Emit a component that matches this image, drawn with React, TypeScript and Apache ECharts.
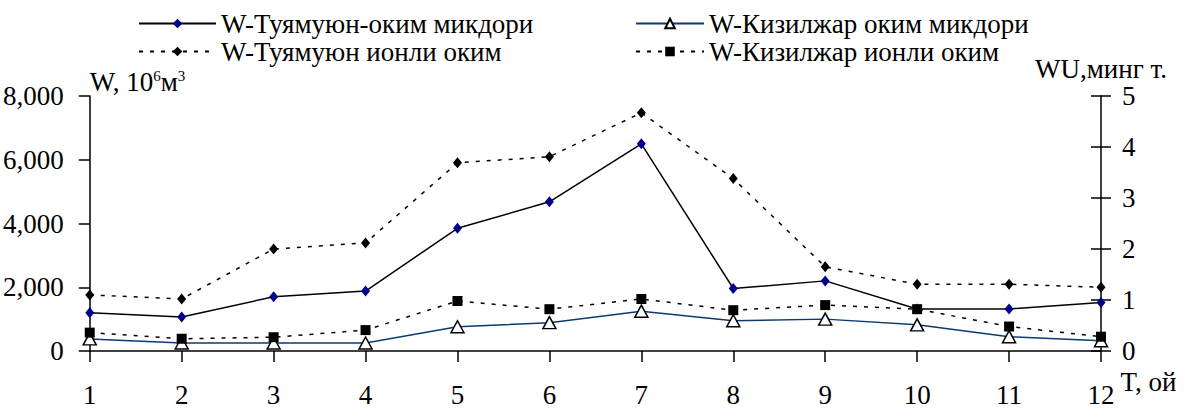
import React, { useEffect, useRef } from "react";
import * as echarts from "echarts";

const months = ["1", "2", "3", "4", "5", "6", "7", "8", "9", "10", "11", "12"];
const tuyamuyunFlow = [1200, 1070, 1700, 1880, 3850, 4680, 6500, 1960, 2200, 1320, 1320, 1520];
const kizilzharFlow = [380, 250, 250, 250, 760, 890, 1250, 950, 1000, 820, 450, 320];
const tuyamuyunIonic = [1.1, 1.02, 2.0, 2.12, 3.69, 3.81, 4.67, 3.38, 1.65, 1.31, 1.31, 1.25];
const kizilzharIonic = [0.36, 0.24, 0.27, 0.41, 0.98, 0.82, 1.02, 0.8, 0.9, 0.82, 0.48, 0.28];

const names = [
  "W-Туямуюн-оким микдори",
  "W-Кизилжар оким микдори",
  "W-Туямуюн ионли оким",
  "W-Кизилжар ионли оким",
];

const FONT = "Liberation Serif";
const FS = 27;

export default function App() {
  const ref = useRef<HTMLDivElement>(null);
  useEffect(() => {
    document.body.style.margin = "0";
    const chart = echarts.init(ref.current!, null, { renderer: "svg" });
    const axisLine = { show: true, lineStyle: { color: "#000", width: 1.5 } };
    const tickStyle = { color: "#000", width: 1.5 };
    chart.setOption({
      animation: false,
      textStyle: { fontFamily: FONT },
      grid: [{ left: 89, right: 93, top: 96, bottom: 58 }],
      legend: [
        {
          data: [names[0], names[2]],
          orient: "vertical",
          left: 133,
          top: 5,
          itemWidth: 77,
          itemHeight: 12,
          itemGap: 1,
          textStyle: { color: "#000", fontFamily: FONT, fontSize: FS },
        },
        {
          data: [names[1], names[3]],
          orient: "vertical",
          left: 630,
          top: 5,
          itemWidth: 68,
          itemHeight: 12,
          itemGap: 1,
          textStyle: { color: "#000", fontFamily: FONT, fontSize: FS },
        },
      ],
      xAxis: [
        {
          type: "category",
          data: months,
          boundaryGap: false,
          axisLine,
          axisTick: { show: true, inside: false, length: 11, lineStyle: tickStyle },
          axisLabel: { color: "#000", fontFamily: FONT, fontSize: FS, margin: 30, interval: 0 },
          splitLine: { show: false },
          name: "T, ой",
          nameLocation: "end",
          nameGap: 17,
          nameTextStyle: { color: "#000", fontFamily: FONT, fontSize: FS, verticalAlign: "top", padding: [17, 0, 0, 0] },
        },
      ],
      yAxis: [
        {
          type: "value",
          min: 0,
          max: 8000,
          interval: 2000,
          position: "left",
          axisLine,
          axisTick: { show: true, inside: false, length: 11, lineStyle: tickStyle },
          axisLabel: { color: "#000", fontFamily: FONT, fontSize: FS, margin: 26, formatter: "{value}" },
          splitLine: { show: false },
          name: "{a|W, 10}{s|6}{a|м}{s|3}",
          nameLocation: "end",
          nameGap: 0,
          nameTextStyle: {
            align: "left",
            fontFamily: FONT,
            rich: {
              a: { fontFamily: FONT, fontSize: FS, color: "#000", lineHeight: 28 },
              s: { fontFamily: FONT, fontSize: 15, color: "#000", lineHeight: 28, verticalAlign: "top" },
            },
          },
        },
        {
          type: "value",
          min: 0,
          max: 5,
          interval: 1,
          position: "right",
          axisLine,
          axisTick: { show: true, inside: false, length: 10, lineStyle: tickStyle },
          axisLabel: { color: "#000", fontFamily: FONT, fontSize: FS, margin: 21 },
          splitLine: { show: false },
          name: "WU,минг т.",
          nameLocation: "end",
          nameGap: 12,
          nameTextStyle: { color: "#000", fontFamily: FONT, fontSize: FS, lineHeight: 20 },
        },
        {
          type: "value",
          min: 0,
          max: 5,
          interval: 1,
          position: "right",
          axisLine: { show: false },
          axisTick: { show: true, inside: true, length: 10, lineStyle: tickStyle },
          axisLabel: { show: false },
          splitLine: { show: false },
        },
      ],
      series: [
        {
          name: names[0],
          type: "line",
          yAxisIndex: 0,
          data: tuyamuyunFlow,
          symbol: "diamond",
          symbolSize: [9, 11],
          lineStyle: { color: "#000", width: 1.5 },
          itemStyle: { color: "#00008b", borderWidth: 0 },
          z: 4,
        },
        {
          name: names[1],
          type: "line",
          yAxisIndex: 0,
          data: kizilzharFlow,
          symbol: "triangle",
          symbolSize: [13, 12],
          lineStyle: { color: "#0d3b6e", width: 1.5 },
          itemStyle: { color: "#fff", borderColor: "#000", borderWidth: 1.5 },
          z: 3,
        },
        {
          name: names[2],
          type: "line",
          yAxisIndex: 1,
          data: tuyamuyunIonic,
          symbol: "diamond",
          symbolSize: [9, 11],
          lineStyle: { color: "#000", width: 1.5, type: [4, 7] },
          itemStyle: { color: "#000", borderWidth: 0 },
          z: 5,
        },
        {
          name: names[3],
          type: "line",
          yAxisIndex: 1,
          data: kizilzharIonic,
          symbol: "rect",
          symbolSize: 10,
          lineStyle: { color: "#000", width: 1.5, type: [4, 7] },
          itemStyle: { color: "#000", borderWidth: 0 },
          z: 5,
        },
      ],
    });
    return () => chart.dispose();
  }, []);
  return <div ref={ref} style={{ width: 1194, height: 409 }} />;
}
